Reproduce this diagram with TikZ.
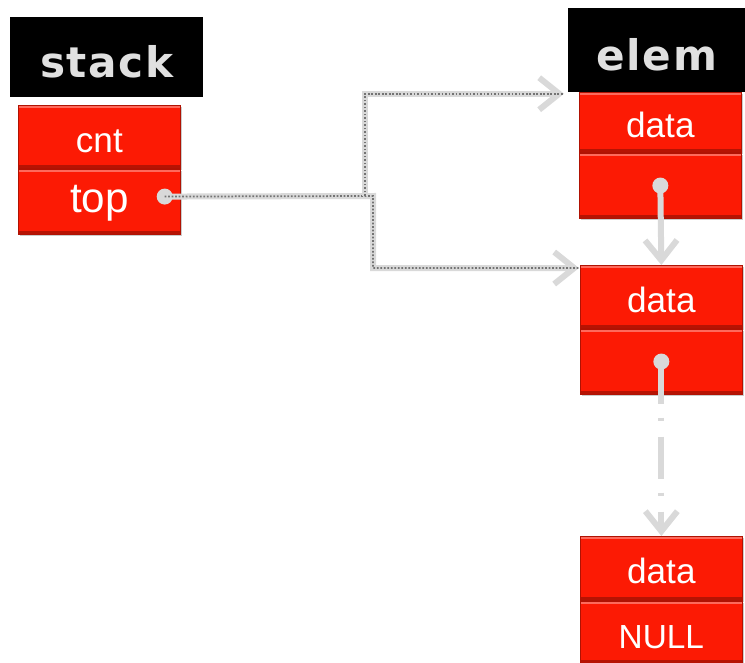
\documentclass[tikz,border=0pt]{standalone}
\usepackage{fontspec}
\setmainfont{Liberation Sans}
\newfontfamily\headfont[LetterSpace=4]{DejaVu Sans}
\usetikzlibrary{positioning,calc,arrows.meta,shadows}
\definecolor{cellred}{RGB}{252,26,4}
\definecolor{linkgray}{RGB}{217,217,217}

\begin{document}
\begin{tikzpicture}
[x=0.2mm,y=-0.2mm,%
  cell/.style={rectangle,draw=cellred!70!black,line width=0.4pt,fill=cellred,
    path picture={
      \fill[cellred!65!white] (path picture bounding box.north west)
        rectangle ([yshift=-1.5pt]path picture bounding box.north east);
      \fill[cellred!72!black] ([yshift=2pt]path picture bounding box.south west)
        rectangle (path picture bounding box.south east);},
    minimum width=32.4mm,minimum height=12.6mm,inner sep=0pt,text=white,
    text height=17.5pt,text depth=0pt,
    font=\fontsize{20}{24}\selectfont,
    drop shadow={fill=black!40,shadow xshift=0.3mm,shadow yshift=-0.4mm}},%
  head/.style={rectangle,fill=black,inner sep=0pt,text=white!88!black,
    text height=23pt,text depth=0pt,
    font=\headfont\bfseries\fontsize{24}{28}\selectfont},%
  dot/.style={circle,fill=linkgray,inner sep=0pt,minimum size=3.2mm},%
  link/.style={draw=linkgray,line width=1.2mm,
    -{Straight Barb[length=4mm,width=6.4mm]}},%
  trace/.style={postaction={draw=black!55,line width=0.35mm,densely dotted,-}}]
\useasboundingbox (0,0) rectangle (745,663);

% the stack header and its fields
\node[head,minimum width=38.6mm,minimum height=16mm,anchor=north west] (stack) at (10,17) {stack};
\node[cell,anchor=north west] (cnt) at (18,105) {cnt};
\node[cell,below=0pt of cnt,minimum height=13mm,text height=13pt,
  font=\fontsize{24}{28}\selectfont] (top) {top};

% the list elements
\node[head,minimum width=35.4mm,minimum height=16.8mm,anchor=north west] (elem) at (568,8) {elem};
\node[cell,anchor=north west,minimum height=12mm] (data1) at (579,92) {data};
\node[cell,below=0pt of data1,minimum height=13mm] (next1) {};
\node[cell,anchor=north west] (data2) at (580,265) {data};
\node[cell,below=0pt of data2,minimum height=13mm] (next2) {};
\node[cell,anchor=north west,minimum height=12.8mm] (data3) at (580,536) {data};
\node[cell,below=0pt of data3,minimum height=12.4mm,text height=19pt,
  font=\fontsize{19}{23}\selectfont] (null) {NULL};

% pointers
\node[dot] (p0) at ($(top.east)+(-16,-5)$) {};
\node[dot] (p1) at (next1) {};
\node[dot] (p2) at (next2) {};
\coordinate (forkup) at (365,196);
\coordinate (forkdown) at (373,196);

\draw[link,trace] (p0.center) -- (forkdown) |- ($(data2.north west)+(-1,3)$);
\draw[link,trace] (forkup) |- ($(elem.south west)+(-4,1)$);
\draw[link] (p1.center) -- (data2.north);
\draw[link,dash pattern=on 8.4mm off 2.8mm on 0.6mm off 3.2mm] (p2.center) -- (data3.north);
\end{tikzpicture}
\end{document}
